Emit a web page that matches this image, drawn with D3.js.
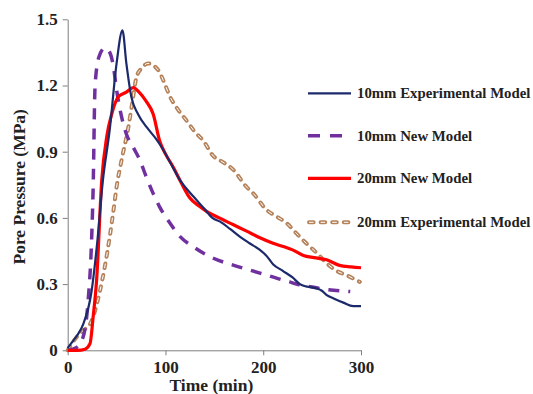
<!DOCTYPE html>
<html><head><meta charset="utf-8">
<script src="https://cdn.jsdelivr.net/npm/d3@7"></script>
<style>body{margin:0;background:#fff}svg{display:block}text{font-family:"Liberation Serif","Times New Roman",serif;font-weight:bold;fill:#222}</style>
</head><body><svg id="c" width="533" height="394"></svg>
<script>
const xTicks=[0,100,200,300];
const yTicks=[0,0.3,0.6,0.9,1.2,1.5];
const seriesNames=["10mm Experimental Model","10mm New Model","20mm New Model","20mm Experimental Model"];
const exp10T=[0,5,10,16,24.5,30,36,43,50,56,60,65,72,81,90,97.5,105,115,124,132,140,148,157,166,176,186,196.6,203,210,220,230,237.5,243,250,255,260,265,272,282,292,300];
const exp10P=[0.01,0.04,0.07,0.12,0.27,0.48,0.77,1.0,1.3,1.45,1.3,1.15,1.07,1.01,0.96,0.91,0.85,0.77,0.72,0.68,0.64,0.60,0.58,0.55,0.515,0.485,0.455,0.43,0.39,0.36,0.33,0.30,0.29,0.285,0.28,0.27,0.25,0.235,0.216,0.2,0.2];
const new10T=[0,8,15,21,24,26,28,32,38,43,46.6,50,55,60,67,74,80,87.5,94,104,115,130,149,170,196.6,215,227,234,246,258,272,289];
const new10P=[0,0.01,0.05,0.23,0.45,0.73,1.2,1.33,1.37,1.35,1.29,1.18,1.06,0.98,0.92,0.86,0.79,0.71,0.65,0.58,0.515,0.465,0.417,0.385,0.35,0.325,0.31,0.30,0.29,0.28,0.272,0.266];
const new20T=[0,10,17.7,22.8,26,29.6,34.8,40,45,52,60,67,73,80,87.5,94,100,108,116,125,134,142,155,169,183,196.6,210,220.5,230,241,252,264.8,278,290,300];
const new20P=[0,0,0.005,0.03,0.15,0.32,0.77,0.97,1.07,1.15,1.17,1.19,1.17,1.13,1.07,0.95,0.89,0.83,0.76,0.69,0.655,0.63,0.6,0.57,0.54,0.51,0.485,0.47,0.455,0.43,0.42,0.41,0.385,0.378,0.374];
const exp20T=[0,9.2,16,23,28,33,38,43,47,50,55,62,66,70.5,76,82,88,94,99,104.6,113,121.7,130,138.7,149,156,169,183,190,203.5,214,224,234,244,255,265,275,285.3,298.8];
const exp20P=[0.0,0.06,0.09,0.12,0.18,0.27,0.38,0.515,0.64,0.74,0.86,1.01,1.12,1.24,1.28,1.30,1.29,1.26,1.21,1.15,1.09,1.04,0.99,0.95,0.88,0.86,0.82,0.74,0.71,0.636,0.605,0.576,0.53,0.485,0.44,0.394,0.36,0.34,0.31];

const svg=d3.select("#c");
const x=d3.scaleLinear().domain([0,300]).range([67.7,361]);
const y=d3.scaleLinear().domain([0,1.5]).range([350.3,19.3]);

const xAx=svg.append("g").attr("transform","translate(0,"+y(0)+")")
  .call(d3.axisBottom(x).tickValues(xTicks).tickSize(5).tickSizeOuter(0).tickPadding(6));
const yAx=svg.append("g").attr("transform","translate("+x(0)+",0)")
  .call(d3.axisLeft(y).tickValues(yTicks).tickSize(5).tickSizeOuter(0).tickFormat(d=>d===0?"0":d3.format(".1f")(d)).tickPadding(5));
[xAx,yAx].forEach(a=>{a.selectAll("path,line").attr("stroke","#7f7f7f").attr("stroke-width",1);
  a.selectAll("text").style("font-family","'Liberation Serif',serif").style("font-weight","bold").style("font-size","17px").attr("fill","#222");});

svg.append("text").attr("x",x(147)).attr("y",391).attr("text-anchor","middle").style("font-size","17.5px").text("Time (min)");
svg.append("text").attr("transform","translate(25,"+(y(0.75)+2)+") rotate(-90)").attr("text-anchor","middle").style("font-size","17.5px").text("Pore Pressure (MPa)");

const line=d3.line().x(d=>x(d[0])).y(d=>y(d[1])).curve(d3.curveMonotoneX);
const mk=(T,P)=>T.map((t,i)=>[t,P[i]]);
const g=svg.append("g");
const brownDa="4.6,7";
const exp20=mk(exp20T,exp20P);
g.append("path").attr("d",line(exp20)).attr("fill","none").attr("stroke","#b5825a").attr("stroke-width",4).attr("stroke-dasharray",brownDa).attr("stroke-linecap","round");
g.append("path").attr("d",line(exp20)).attr("fill","none").attr("stroke","#fff").attr("stroke-width",1).attr("stroke-dasharray",brownDa).attr("stroke-linecap","butt");
g.append("path").attr("d",line(mk(new10T,new10P))).attr("fill","none").attr("stroke","#7030a0").attr("stroke-width",3.5).attr("stroke-dasharray","11,9");
g.append("path").attr("d",line(mk(new20T,new20P))).attr("fill","none").attr("stroke","#ff0000").attr("stroke-width",3.2).attr("stroke-linejoin","round");
g.append("path").attr("d",line(mk(exp10T,exp10P))).attr("fill","none").attr("stroke","#1c2a6b").attr("stroke-width",2.2).attr("stroke-linejoin","round");

const legY=[93.3,135.7,178.3,222.3];
const styles=[
 {c:"#1c2a6b",w:2.2,da:null,x1:308,x2:351},
 {c:"#7030a0",w:3.5,da:"12,10",x1:308,x2:342},
 {c:"#ff0000",w:3.2,da:null,x1:308,x2:351},
 {c:"#b5825a",w:4,da:brownDa,dot:true,x1:309,x2:352}];
seriesNames.forEach((n,i)=>{
  const s=styles[i], lg=svg.append("g");
  const l=lg.append("line").attr("x1",s.x1).attr("x2",s.x2).attr("y1",legY[i]).attr("y2",legY[i]).attr("stroke",s.c).attr("stroke-width",s.w);
  if(s.da) l.attr("stroke-dasharray",s.da);
  if(s.dot){l.attr("stroke-linecap","round");lg.append("line").attr("x1",s.x1).attr("x2",s.x2).attr("y1",legY[i]).attr("y2",legY[i]).attr("stroke","#fff").attr("stroke-width",1).attr("stroke-dasharray",s.da);}
  lg.append("text").attr("x",357).attr("y",legY[i]+5).style("font-size","14.8px").text(n);
});
</script></body></html>
